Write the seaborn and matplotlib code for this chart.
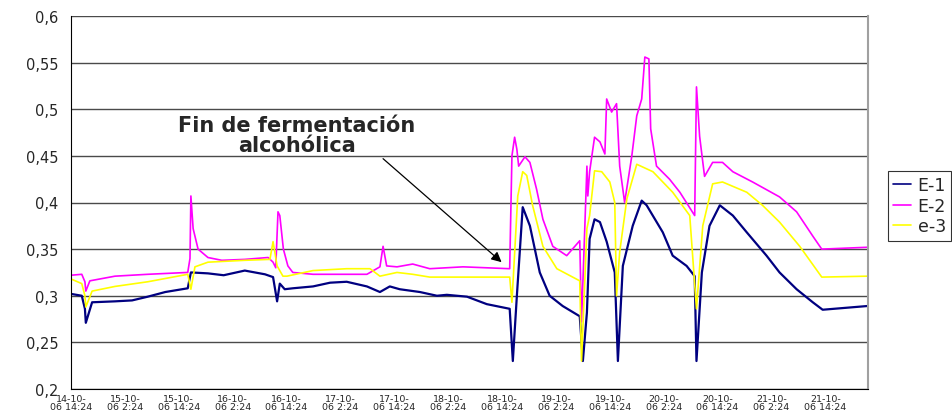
import numpy as np
import pandas as pd
import matplotlib
matplotlib.use("Agg")
import matplotlib.pyplot as plt
import seaborn as sns

# ============================
# data
# hours since 14-10-06 14:24
# ============================
e1_hours = [0.0, 2.4, 3.1, 3.3, 4.7, 9.8, 13.6, 17.1, 21.0, 26.0,
            26.7, 30.5, 34.0, 38.7, 43.2, 45.0, 45.9, 46.5, 47.6, 49.4,
            53.9, 57.7, 61.4, 65.9, 68.8, 71.0, 73.2, 77.7, 81.5, 83.7,
            88.2, 92.6, 97.7, 98.4, 99.3, 100.6, 102.2, 104.4, 106.6, 109.5,
            113.3, 114.0, 114.9, 115.5, 116.6, 117.8, 119.3, 121.1, 121.8, 122.9,
            125.1, 127.1, 128.2, 131.8, 134.0, 137.1, 138.9, 139.3, 140.5, 142.2,
            144.5, 147.4, 150.5, 154.9, 157.8, 161.6, 165.2, 167.4, 177.4]
e1_vals = [0.302, 0.300, 0.286, 0.271, 0.293, 0.294, 0.295, 0.299, 0.304, 0.308,
           0.325, 0.324, 0.322, 0.327, 0.323, 0.320, 0.294, 0.313, 0.307, 0.308,
           0.310, 0.314, 0.315, 0.310, 0.304, 0.310, 0.307, 0.304, 0.300, 0.301,
           0.299, 0.291, 0.286, 0.230, 0.300, 0.395, 0.375, 0.325, 0.300, 0.289,
           0.278, 0.230, 0.282, 0.361, 0.382, 0.379, 0.358, 0.325, 0.230, 0.332,
           0.375, 0.402, 0.397, 0.368, 0.343, 0.332, 0.321, 0.230, 0.325, 0.375,
           0.397, 0.386, 0.368, 0.343, 0.325, 0.307, 0.293, 0.285, 0.289]

e2_hours = [0.0, 2.4, 3.1, 3.3, 4.2, 9.8, 17.1, 26.0, 26.5, 26.7,
            27.2, 28.3, 30.5, 33.6, 38.7, 43.9, 45.0, 45.6, 46.1, 46.5,
            47.3, 48.3, 49.4, 53.9, 61.4, 65.9, 68.8, 69.5, 70.3, 72.6,
            76.1, 79.9, 87.3, 97.7, 98.2, 98.8, 99.3, 99.7, 101.1, 102.2,
            103.7, 105.1, 107.3, 110.4, 113.3, 113.7, 114.9, 115.1, 115.5, 116.6,
            117.8, 118.9, 119.3, 120.4, 121.5, 122.2, 123.3, 124.9, 126.0, 127.1,
            127.8, 128.7, 129.1, 130.4, 133.3, 135.6, 138.9, 139.3, 140.0, 141.1,
            142.9, 145.1, 147.4, 151.8, 157.8, 161.6, 165.2, 167.2, 177.4]
e2_vals = [0.322, 0.323, 0.315, 0.305, 0.316, 0.321, 0.323, 0.325, 0.340, 0.407,
           0.372, 0.350, 0.341, 0.338, 0.339, 0.341, 0.336, 0.330, 0.390, 0.386,
           0.350, 0.332, 0.325, 0.323, 0.323, 0.323, 0.331, 0.353, 0.332, 0.331,
           0.334, 0.329, 0.331, 0.329, 0.450, 0.470, 0.457, 0.439, 0.449, 0.443,
           0.414, 0.382, 0.353, 0.343, 0.359, 0.272, 0.439, 0.407, 0.433, 0.470,
           0.465, 0.452, 0.511, 0.497, 0.506, 0.439, 0.400, 0.450, 0.493, 0.511,
           0.556, 0.554, 0.479, 0.439, 0.425, 0.411, 0.386, 0.524, 0.471, 0.428,
           0.443, 0.443, 0.433, 0.422, 0.406, 0.390, 0.364, 0.350, 0.352]

e3_hours = [0.0, 2.4, 3.1, 3.3, 4.7, 9.8, 17.1, 26.0, 26.7, 27.6,
            30.5, 38.7, 44.3, 45.0, 45.9, 47.2, 48.1, 53.9, 61.4, 66.6,
            68.8, 72.6, 76.1, 79.9, 87.3, 97.7, 98.2, 99.5, 100.6, 101.5,
            102.8, 105.1, 108.2, 113.3, 113.7, 114.9, 115.5, 116.6, 118.2, 120.0,
            121.1, 121.5, 122.2, 123.8, 126.0, 129.6, 134.0, 137.8, 139.3, 140.7,
            142.9, 145.1, 150.5, 154.0, 157.8, 162.3, 167.2, 177.4]
e3_vals = [0.318, 0.313, 0.300, 0.288, 0.305, 0.310, 0.315, 0.323, 0.307, 0.331,
           0.336, 0.338, 0.339, 0.358, 0.332, 0.321, 0.321, 0.327, 0.329, 0.329,
           0.321, 0.325, 0.323, 0.320, 0.320, 0.320, 0.293, 0.407, 0.433, 0.429,
           0.397, 0.353, 0.329, 0.316, 0.230, 0.372, 0.386, 0.434, 0.433, 0.422,
           0.400, 0.300, 0.347, 0.404, 0.441, 0.433, 0.411, 0.386, 0.286, 0.375,
           0.420, 0.422, 0.411, 0.397, 0.379, 0.353, 0.320, 0.321]

series_names = ["E-1", "E-2", "e-3"]
series_colors = ["#000080", "#FF00FF", "#FFFF00"]
series_widths = [1.6, 1.2, 1.2]

tick_hours = [0, 12, 24, 36, 48, 60, 72, 84, 96, 108, 120, 132, 144, 156, 168]
tick_labels = ["14-10-\n06 14:24", "15-10-\n06 2:24", "15-10-\n06 14:24",
               "16-10-\n06 2:24", "16-10-\n06 14:24", "17-10-\n06 2:24",
               "17-10-\n06 14:24", "18-10-\n06 2:24", "18-10-\n06 14:24",
               "19-10-\n06 2:24", "19-10-\n06 14:24", "20-10-\n06 2:24",
               "20-10-\n06 14:24", "21-10-\n06 2:24", "21-10-\n06 14:24"]
y_ticks = [0.2, 0.25, 0.3, 0.35, 0.4, 0.45, 0.5, 0.55, 0.6]

# ============================
# tabla larga para seaborn
# ============================
frames = []
for name, h, v in zip(series_names, [e1_hours, e2_hours, e3_hours], [e1_vals, e2_vals, e3_vals]):
    frames.append(pd.DataFrame({"hours": h, "value": v, "serie": name}))
df = pd.concat(frames, ignore_index=True)

sns.set_style("white")
plt.rcParams["font.family"] = ["DejaVu Sans"]

fig = plt.figure(figsize=(9.52, 4.14), dpi=100)
ax = fig.add_axes([71 / 952, 1 - 390 / 414, (868 - 71) / 952, (390 - 17) / 414])

for name, color, lw in zip(series_names, series_colors, series_widths):
    sns.lineplot(data=df[df["serie"] == name], x="hours", y="value", color=color,
                 estimator=None, sort=False, linewidth=lw, ax=ax)

ax.set_xlim(0, 177.5)
ax.set_ylim(0.2, 0.6)
ax.set_xticks(tick_hours)
ax.set_xticklabels(tick_labels, fontsize=6.8, linespacing=0.85)
ax.set_yticks(y_ticks)
ax.set_yticklabels([f"{t:g}".replace(".", ",") for t in y_ticks], fontsize=10.5)
ax.set_xlabel("")
ax.set_ylabel("")

ax.grid(axis="y", color="#4a4a4a", linewidth=1.0)
ax.grid(axis="x", visible=False)
ax.tick_params(axis="y", direction="out", length=6, width=0.8, color="black", pad=3)
ax.tick_params(axis="x", direction="out", length=3, width=0.8, color="black", pad=0.8)
ax.spines["left"].set_color("black")
ax.spines["bottom"].set_color("black")
ax.spines["top"].set_visible(False)
ax.spines["right"].set_color("#a0a0a0")
ax.spines["right"].set_linewidth(1.5)

# anotación
ax.text(50.3, 0.472, "Fin de fermentación\nalcohólica", ha="center", va="center",
        fontsize=15, fontweight="bold", linespacing=1.0)
ax.annotate("", xy=(95.9, 0.336), xytext=(69.5, 0.447),
            arrowprops=dict(arrowstyle="-|>", color="black", lw=0.9,
                            mutation_scale=15, shrinkA=0, shrinkB=0))

# leyenda (cortada en el borde derecho, como en el original)
handles = [plt.Line2D([], [], color=c, lw=1.2) for c in series_colors]
leg = fig.legend(handles, series_names, loc="upper left",
                 bbox_to_anchor=(888 / 952, 1 - 172 / 414), fontsize=12.5,
                 frameon=True, fancybox=False, borderpad=0.3, handlelength=1.0,
                 labelspacing=0.15, handletextpad=0.4, borderaxespad=0)
leg.get_frame().set_edgecolor("black")
leg.get_frame().set_linewidth(0.8)

fig.savefig("out.png", dpi=100)
